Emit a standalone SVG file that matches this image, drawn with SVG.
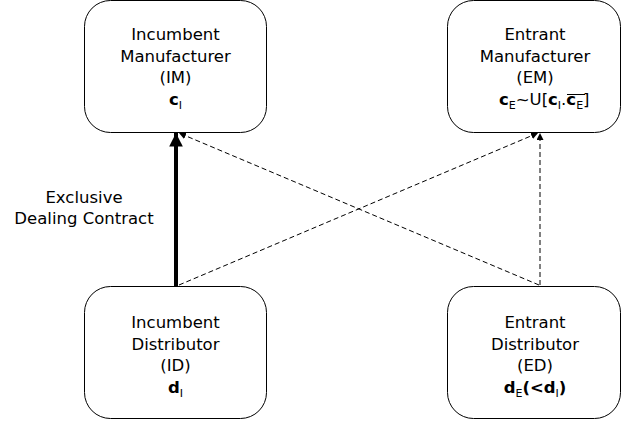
<svg xmlns="http://www.w3.org/2000/svg" width="624" height="421" viewBox="0 0 624 421">
<style>
.box{fill:#fff;stroke:#000;stroke-width:1}
.t{font-family:"DejaVu Sans",Verdana,sans-serif;font-size:16.5px;fill:#000;text-anchor:middle}
.l{text-anchor:start}
.b{font-weight:bold}
.s{font-size:11px}
.d{stroke:#000;stroke-width:1;stroke-dasharray:5,3;fill:none}
</style>
<defs>
<marker id="big" viewBox="0 0 10 10" refX="10" refY="5" markerWidth="3.4" markerHeight="3.4" orient="auto" markerUnits="strokeWidth"><path d="M0,0L10,5L0,10z" fill="#000"/></marker>
<marker id="sm" viewBox="0 0 10 10" refX="10" refY="5" markerWidth="7" markerHeight="7" orient="auto" markerUnits="userSpaceOnUse"><path d="M0,0L10,5L0,10z" fill="#000"/></marker>
</defs>
<g id="connectors">
<line x1="176" y1="286" x2="176" y2="133" stroke="#000" stroke-width="4" marker-end="url(#big)"/>
<line class="d" x1="179" y1="285" x2="538" y2="133" marker-end="url(#sm)"/>
<line class="d" x1="539" y1="285" x2="179" y2="133" marker-end="url(#sm)"/>
<line class="d" x1="540" y1="285" x2="540" y2="133" marker-end="url(#sm)"/>
</g>
<g id="IM">
<rect class="box" x="84.5" y="0.5" width="182" height="132" rx="26"/>
<text class="t" x="175.5" y="40">Incumbent</text>
<text class="t" x="175.5" y="62">Manufacturer</text>
<text class="t" x="175.5" y="83">(IM)</text>
<text class="t" x="175.5" y="105"><tspan class="b">c</tspan><tspan class="s" dy="4">I</tspan></text>
</g>
<g id="EM">
<rect class="box" x="447.5" y="0.5" width="173" height="132" rx="26"/>
<text class="t" x="535" y="40">Entrant</text>
<text class="t" x="535" y="62">Manufacturer</text>
<text class="t" x="535" y="83">(EM)</text>
<text class="t l" x="499" y="105"><tspan class="b">c</tspan><tspan class="s" dy="4">E</tspan><tspan dy="-4">~U[</tspan><tspan class="b">c</tspan><tspan class="s" dy="4">I</tspan><tspan dy="-4">.</tspan><tspan class="b">c</tspan><tspan class="s" dy="4">E</tspan><tspan dy="-4">]</tspan></text>
<line x1="567" y1="94.5" x2="585" y2="94.5" stroke="#000" stroke-width="1"/>
</g>
<g id="ID">
<rect class="box" x="84.5" y="286.5" width="182" height="132" rx="26"/>
<text class="t" x="175.5" y="328">Incumbent</text>
<text class="t" x="175.5" y="350">Distributor</text>
<text class="t" x="175.5" y="371">(ID)</text>
<text class="t" x="175.5" y="393"><tspan class="b">d</tspan><tspan class="s" dy="4">I</tspan></text>
</g>
<g id="ED">
<rect class="box" x="447.5" y="286.5" width="173" height="132" rx="26"/>
<text class="t" x="535" y="328">Entrant</text>
<text class="t" x="535" y="350">Distributor</text>
<text class="t" x="535" y="371">(ED)</text>
<text class="t" x="535" y="393"><tspan class="b">d</tspan><tspan class="s" dy="4">E</tspan><tspan class="b" dy="-4">(&lt;d</tspan><tspan class="s" dy="4">I</tspan><tspan class="b" dy="-4">)</tspan></text>
</g>
<g id="label">
<text class="t" x="84" y="203">Exclusive</text>
<text class="t" x="84" y="224">Dealing Contract</text>
</g>
</svg>
